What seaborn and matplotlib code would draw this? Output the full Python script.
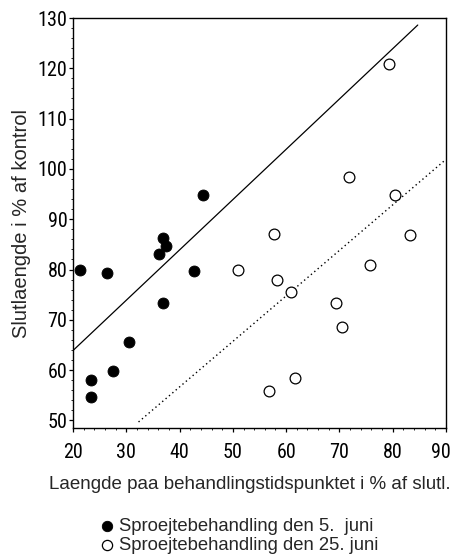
import matplotlib
matplotlib.use("Agg")
import matplotlib.pyplot as plt
import matplotlib.transforms as mtransforms
from matplotlib import font_manager
from matplotlib.ticker import MultipleLocator
import seaborn as sns
import pandas as pd

# --- data -------------------------------------------------------------
early_x = [21.4, 26.4, 44.4, 36.9, 37.5, 36.2, 42.8, 36.9, 30.6, 27.6, 23.3, 23.4]
early_y = [79.9, 79.4, 94.9, 86.2, 84.6, 83.0, 79.8, 73.3, 65.5, 59.8, 58.0, 54.6]
late_x = [79.3, 71.8, 80.4, 57.8, 83.2, 75.8, 50.9, 58.3, 61.0, 69.3, 70.5, 61.6, 56.8]
late_y = [120.8, 98.4, 94.8, 87.1, 86.8, 81.0, 80.0, 78.0, 75.6, 73.4, 68.5, 58.5, 55.8]
fit_early_x = [20.0, 84.7]
fit_early_y = [63.9, 128.6]
fit_late_x = [32.3, 90.0]
fit_late_y = [49.7, 101.9]
label_early = "Sproejtebehandling den 5.  juni"
label_late = "Sproejtebehandling den 25. juni"
xlabel = "Laengde paa behandlingstidspunktet i % af slutl."
ylabel = "Slutlaengde i % af kontrol"
xticks = [20, 30, 40, 50, 60, 70, 80, 90]
yticks = [50, 60, 70, 80, 90, 100, 110, 120, 130]

df_early = pd.DataFrame({"x": early_x, "y": early_y})
df_late = pd.DataFrame({"x": late_x, "y": late_y})
df_fe = pd.DataFrame({"x": fit_early_x, "y": fit_early_y})
df_fl = pd.DataFrame({"x": fit_late_x, "y": fit_late_y})

sns.set_style("ticks")
plt.rcParams["font.family"] = ["Liberation Sans", "DejaVu Sans"]

# pick a narrow face for the tall, narrow tick digits if one is installed
installed = {(f.name, f.stretch) for f in font_manager.fontManager.ttflist}
names = {n for n, _ in installed}
tick_prop = font_manager.FontProperties(family=["Liberation Sans"], size=14)
for cand in ["Liberation Sans Narrow", "Roboto Condensed", "Open Sans Condensed",
             "Noto Sans Condensed"]:
    if cand in names:
        tick_prop = font_manager.FontProperties(family=[cand], size=14.5)
        break
else:
    for n, st in installed:
        if str(st) in ("condensed", "semi-condensed", "75", "87.5") and n in (
                "DejaVu Sans", "Noto Sans", "Open Sans", "Roboto", "Liberation Sans"):
            tick_prop = font_manager.FontProperties(family=[n], stretch="condensed",
                                                    size=14)
            break

fig = plt.figure(figsize=(4.54, 5.59), dpi=100)
ax = fig.add_axes([73 / 454, 1 - 428 / 559, (446 - 73) / 454, (428 - 18) / 559])

sns.lineplot(data=df_fe, x="x", y="y", ax=ax, color="black", lw=0.9,
             linestyle="-", legend=False)
sns.lineplot(data=df_fl, x="x", y="y", ax=ax, color="black", lw=1.0,
             linestyle=(0, (1, 2.2)), legend=False)
sns.scatterplot(data=df_early, x="x", y="y", ax=ax, s=62, color="black",
                edgecolor="black", marker="o", label=label_early, zorder=3)
sns.scatterplot(data=df_late, x="x", y="y", ax=ax, s=60, facecolor="white",
                edgecolor="black", linewidth=0.9, marker="o", label=label_late,
                zorder=3)

ax.set_xlim(20, 90)
ax.set_ylim(48.5, 130)
ax.set_xticks(xticks)
ax.set_yticks(yticks)
ax.xaxis.set_minor_locator(MultipleLocator(2))
ax.yaxis.set_minor_locator(MultipleLocator(2))
ax.tick_params(axis="x", which="major", direction="out", length=3, width=0.9,
               pad=8, colors="black")
ax.tick_params(axis="y", which="major", direction="out", length=3, width=0.9,
               pad=1, colors="black")
ax.tick_params(which="minor", direction="out", length=1.5, width=0.7)
for lab in ax.get_xticklabels() + ax.get_yticklabels():
    lab.set_fontproperties(tick_prop)
# last x label sits slightly left of its tick in the reference, inside the page
xl = ax.get_xticklabels()
xl[-1].set_transform(xl[-1].get_transform() +
                     mtransforms.ScaledTranslation(-5 / 100, 0, fig.dpi_scale_trans))
for sp in ax.spines.values():
    sp.set_visible(True)
    sp.set_color("black")
    sp.set_linewidth(1.0)

ax.set_xlabel(xlabel, fontsize=13.5)
ax.xaxis.set_label_coords(0.473, -0.118)
ax.set_ylabel(ylabel, fontsize=14.5, labelpad=4.5)

handles, labels = ax.get_legend_handles_labels()
ax.get_legend().remove()
fig.legend(handles, labels, loc="center", bbox_to_anchor=(0.524, 0.041),
           frameon=False, fontsize=13.3, handletextpad=0.15, labelspacing=0.1,
           borderpad=0, handlelength=1.0, markerscale=0.95)

fig.savefig("out.png", dpi=100)
